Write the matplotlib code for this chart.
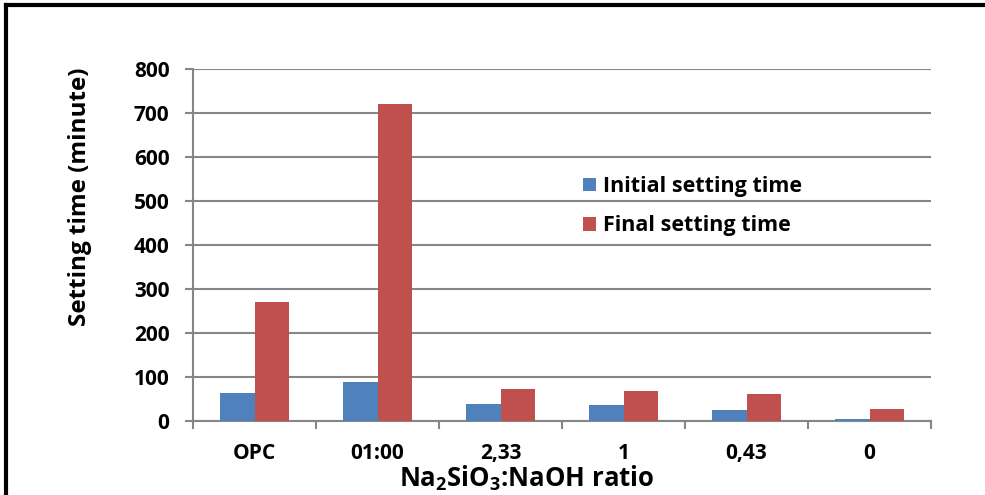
import matplotlib
matplotlib.use("Agg")
import matplotlib.pyplot as plt
import numpy as np
from matplotlib.lines import Line2D

categories = ["OPC", "01:00", "2,33", "1", "0,43", "0"]
initial = [64, 88, 39, 36, 25, 4]
final = [270, 720, 73, 69, 61, 28]
series_names = ["Initial setting time", "Final setting time"]
yticks = [0, 100, 200, 300, 400, 500, 600, 700, 800]

FONT = 'Open Sans'
plt.rcParams['font.family'] = [FONT, 'DejaVu Sans']
plt.rcParams['font.weight'] = 'bold'
plt.rcParams['mathtext.fontset'] = 'custom'
plt.rcParams['mathtext.rm'] = FONT + ':bold'
plt.rcParams['mathtext.bf'] = FONT + ':bold'
plt.rcParams['mathtext.it'] = FONT + ':bold'

W, H = 985, 495
fig = plt.figure(figsize=(W/100, H/100), dpi=100)
ax = fig.add_axes([193/W, 1-421/H, (931-193)/W, (421-69)/H])

gray = '#868686'
x = np.arange(len(categories))
bw = 0.282
ax.bar(x - bw/2, initial, bw, color='#4F81BD', label=series_names[0], zorder=3)
ax.bar(x + bw/2, final, bw, color='#C0504D', label=series_names[1], zorder=3)

ax.set_xlim(-0.5, len(categories) - 0.5)
ax.set_ylim(0, 800)
ax.set_yticks(yticks)
ax.set_yticklabels([str(v) for v in yticks], fontsize=15, fontweight='bold')
ax.set_xticks(x)
ax.set_xticklabels(categories, fontsize=15, fontweight='bold')
ax.set_xticks(np.arange(-0.5, len(categories)), minor=True)
ax.tick_params(axis='x', which='major', length=0, pad=16)
ax.tick_params(axis='x', which='minor', length=6, width=1.5, color=gray, direction='out')
ax.tick_params(axis='y', length=6, width=1.5, color=gray, direction='out', pad=11)
ax.yaxis.grid(True, color=gray, linewidth=1.5, zorder=0)
for s in ['top', 'right']:
    ax.spines[s].set_visible(False)
for s in ['left', 'bottom']:
    ax.spines[s].set_color(gray)
    ax.spines[s].set_linewidth(1.5)

fig.text(80/W, 1-197/H, "Setting time (minute)", fontsize=17.5, fontweight='bold',
         rotation=90, ha='center', va='center')
fig.text(527/W, 1-478/H, r"Na$_\mathbf{2}$SiO$_\mathbf{3}$:NaOH ratio", fontsize=18.5,
         fontweight='bold', ha='center', va='center')

leg = ax.legend(loc='upper left', bbox_to_anchor=(583/W, 1-176/H), bbox_transform=fig.transFigure,
                frameon=False, fontsize=15.5, handlelength=0.6, handleheight=0.6,
                handletextpad=0.35, labelspacing=0.85, borderpad=0, borderaxespad=0)
for t in leg.get_texts():
    t.set_fontweight('bold')

# outer frame (top and left edges)
fig.add_artist(Line2D([6/W, 6/W], [0, 1-5/H], transform=fig.transFigure, color='black', linewidth=3))
fig.add_artist(Line2D([6/W, 1], [1-5/H, 1-5/H], transform=fig.transFigure, color='black', linewidth=3))

fig.savefig("out.png", dpi=100)
